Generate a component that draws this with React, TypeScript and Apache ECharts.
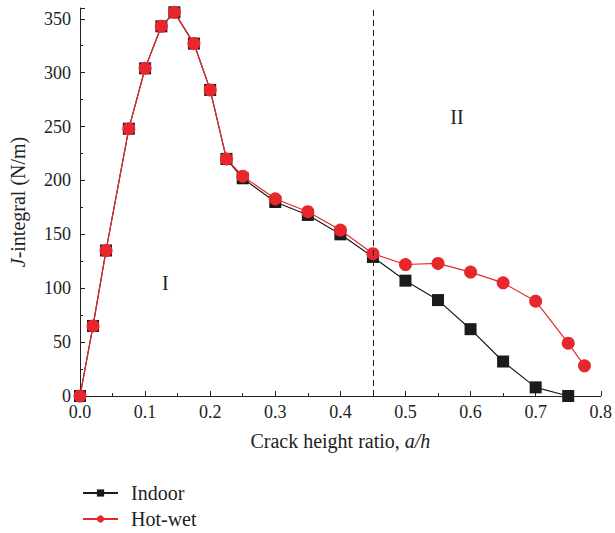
import React, { useEffect, useRef } from "react";
import * as echarts from "echarts";

const indoorX = [0, 0.02, 0.04, 0.075, 0.1, 0.125, 0.145, 0.175, 0.2, 0.225, 0.25, 0.3, 0.35, 0.4, 0.45, 0.5, 0.55, 0.6, 0.65, 0.7, 0.75];
const indoorY = [0, 65, 135, 248, 304, 343, 356, 327, 284, 220, 202, 180, 168, 150, 129, 107, 89, 62, 32, 8, 0];
const hotWetX = [0, 0.02, 0.04, 0.075, 0.1, 0.125, 0.145, 0.175, 0.2, 0.225, 0.25, 0.3, 0.35, 0.4, 0.45, 0.5, 0.55, 0.6, 0.65, 0.7, 0.75, 0.775];
const hotWetY = [0, 65, 135, 248, 304, 343, 356, 327, 284, 220, 204, 183, 171, 154, 132, 122, 123, 115, 105, 88, 49, 28];
const xTicks = [0, 0.8, 0.1];
const yTicks = [0, 360, 50];
const dividerX = 0.45;
const regionLabels = [
  { text: "I", x: 0.131, y: 105 },
  { text: "II", x: 0.579, y: 259 },
];

const FONT = "Liberation Serif";
const INK = "#222";

export default function App() {
  const ref = useRef<HTMLDivElement>(null);
  useEffect(() => {
    if (!ref.current) return;
    document.body.style.margin = "0";
    const chart = echarts.init(ref.current, undefined, { renderer: "svg" });
    const zip = (xs: number[], ys: number[]) => xs.map((x, i) => [x, ys[i]]);
    const legendBase = {
      orient: "vertical",
      left: 82,
      padding: 0,
      itemWidth: 35,
      itemHeight: 9,
      textStyle: { fontFamily: FONT, fontSize: 20, color: INK, padding: [0, 0, 0, 8] },
    };
    chart.setOption({
      animation: false,
      textStyle: { fontFamily: FONT },
      grid: { left: 79, right: 12, top: 8, bottom: 137 },
      legend: [
        { ...legendBase, top: 483, data: ["Indoor"] },
        { ...legendBase, top: 509, data: ["Hot-wet"] },
      ],
      xAxis: {
        type: "value",
        min: xTicks[0],
        max: xTicks[1],
        interval: xTicks[2],
        name: "{n|Crack height ratio, }{i|a/h}",
        nameLocation: "middle",
        nameGap: 35,
        nameTextStyle: {
          fontFamily: FONT,
          rich: {
            n: { fontFamily: FONT, fontSize: 20, color: INK },
            i: { fontFamily: FONT, fontSize: 20, fontStyle: "italic", color: INK },
          },
        },
        axisLine: { lineStyle: { color: INK, width: 1 } },
        axisTick: { inside: true, length: 5, lineStyle: { color: INK } },
        minorTick: { show: true, splitNumber: 2, length: 3, lineStyle: { color: INK } },
        splitLine: { show: false },
        axisLabel: {
          fontFamily: FONT,
          fontSize: 18,
          color: INK,
          margin: 7,
          formatter: (v: number) => v.toFixed(1),
        },
      },
      yAxis: {
        type: "value",
        min: yTicks[0],
        max: yTicks[1],
        interval: yTicks[2],
        name: "{i|J}{n|-integral (N/m)}",
        nameLocation: "middle",
        nameGap: 52,
        nameTextStyle: {
          fontFamily: FONT,
          rich: {
            n: { fontFamily: FONT, fontSize: 20, color: INK },
            i: { fontFamily: FONT, fontSize: 20, fontStyle: "italic", color: INK },
          },
        },
        axisLine: { show: true, lineStyle: { color: INK, width: 1 } },
        axisTick: { show: true, inside: true, length: 5, lineStyle: { color: INK } },
        minorTick: { show: true, splitNumber: 2, length: 3, lineStyle: { color: INK } },
        splitLine: { show: false },
        axisLabel: {
          fontFamily: FONT,
          fontSize: 18,
          color: INK,
          margin: 9,
          showMaxLabel: false,
        },
      },
      series: [
        {
          name: "Indoor",
          type: "line",
          data: zip(indoorX, indoorY),
          symbol: "rect",
          symbolSize: 12,
          itemStyle: { color: "#1b1b1b" },
          lineStyle: { color: "#1b1b1b", width: 1.2 },
          z: 2,
          markLine: {
            silent: true,
            symbol: "none",
            label: { show: false },
            lineStyle: { color: INK, type: [6, 4], width: 1 },
            data: [{ xAxis: dividerX }],
          },
        },
        {
          name: "Hot-wet",
          type: "line",
          data: zip(hotWetX, hotWetY),
          symbol: "circle",
          symbolSize: 13,
          itemStyle: { color: "#e8272c" },
          lineStyle: { color: "#e8272c", width: 1.2 },
          z: 3,
        },
      ],
    });
    const graphics = regionLabels.map((r) => {
      const p = chart.convertToPixel({ gridIndex: 0 }, [r.x, r.y]) as number[];
      return {
        type: "text",
        x: p[0],
        y: p[1],
        style: {
          text: r.text,
          fontFamily: FONT,
          fontSize: 20,
          fill: INK,
          align: "center",
          verticalAlign: "middle",
        },
      };
    });
    chart.setOption({ graphic: graphics });
    return () => chart.dispose();
  }, []);
  return <div ref={ref} style={{ width: 615, height: 533 }} />;
}
